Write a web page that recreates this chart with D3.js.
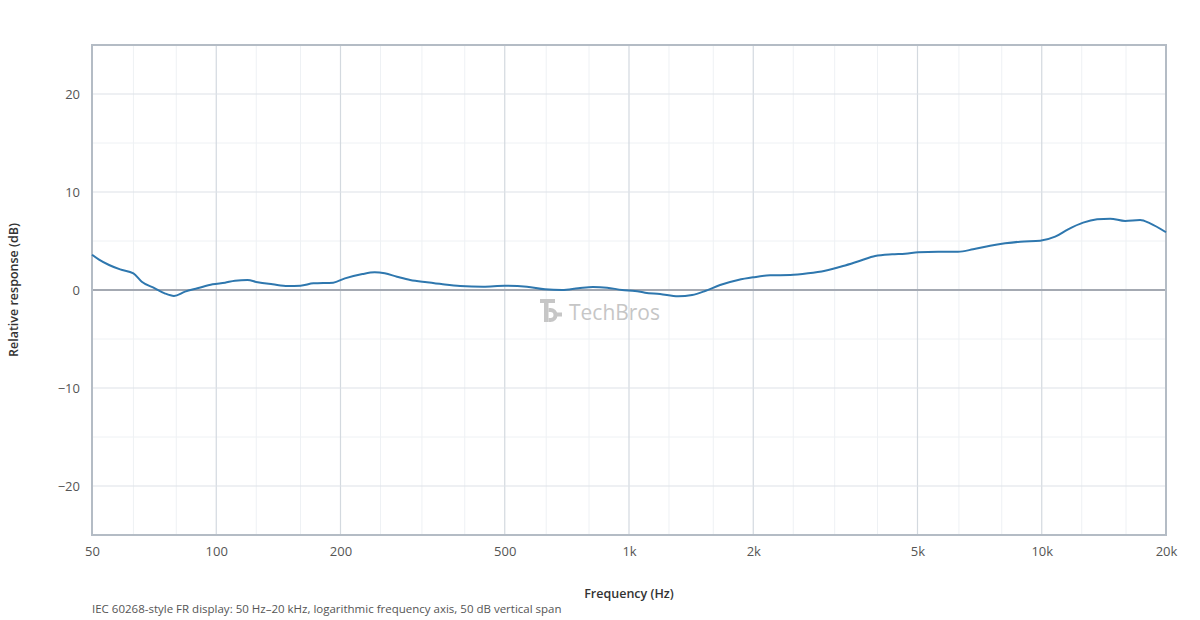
<!DOCTYPE html>
<html>
<head>
<meta charset="utf-8">
<script src="https://cdn.jsdelivr.net/npm/d3@7/dist/d3.min.js"></script>
<style>
  html, body { margin: 0; padding: 0; background: #fff; }
  svg { display: block; font-family: "Open Sans", "Noto Sans", sans-serif; }
</style>
</head>
<body>
<svg id="chart" width="1200" height="620"></svg>
<script>
// ---- data ----
const freqs = [50, 52, 55, 58.5, 63, 66, 71, 75, 79, 84, 90, 98, 105, 111, 119, 126, 137, 149, 160, 172, 192, 205, 226, 242, 256, 274, 295, 324, 354, 390, 443, 500, 566, 626, 688, 753, 818, 885, 962, 1034, 1094, 1189, 1315, 1422, 1529, 1662, 1838, 1998, 2197, 2457, 2716, 2986, 3301, 3630, 3948, 4341, 4667, 5017, 5610, 6271, 6818, 7497, 8153, 8866, 9912, 10776, 11584, 12596, 13621, 14644, 15922, 17313, 18303, 20000];
const response = [3.6, 3.1, 2.55, 2.1, 1.7, 0.85, 0.17, -0.34, -0.6, -0.17, 0.17, 0.58, 0.75, 0.95, 1.02, 0.78, 0.58, 0.41, 0.44, 0.68, 0.75, 1.19, 1.63, 1.8, 1.7, 1.36, 1.02, 0.78, 0.58, 0.41, 0.34, 0.44, 0.34, 0.07, 0.0, 0.17, 0.31, 0.24, 0.0, -0.1, -0.27, -0.41, -0.65, -0.51, -0.1, 0.51, 1.02, 1.29, 1.5, 1.53, 1.7, 1.97, 2.45, 2.99, 3.47, 3.64, 3.7, 3.84, 3.91, 3.91, 4.15, 4.52, 4.76, 4.93, 5.03, 5.44, 6.19, 6.87, 7.21, 7.28, 7.04, 7.14, 6.8, 5.89];
const xMajorTicks = [50, 100, 200, 500, 1000, 2000, 5000, 10000, 20000];
const xTickLabels = ["50", "100", "200", "500", "1k", "2k", "5k", "10k", "20k"];
const xMinorGrid = [63, 80, 125, 160, 250, 315, 400, 630, 800, 1250, 1600, 2500, 3150, 4000, 6300, 8000, 12500, 16000];
const yMajorTicks = [-20, -10, 0, 10, 20];
const yMinorGrid = [-15, -5, 5, 15];
const xDomain = [50, 20000];
const yDomain = [-25, 25];
const xTitle = "Frequency (Hz)";
const yTitle = "Relative response (dB)";
const caption = "IEC 60268-style FR display: 50 Hz\u201320 kHz, logarithmic frequency axis, 50 dB vertical span";

// ---- layout ----
const svg = d3.select("#chart");
const m = { left: 92, right: 34, top: 45, bottom: 85 };
const W = 1200, H = 620;
const x = d3.scaleLog().domain(xDomain).range([m.left, W - m.right]);
const y = d3.scaleLinear().domain(yDomain).range([H - m.bottom, m.top]);

const g = svg.append("g");

// minor grid
g.selectAll(".xminor").data(xMinorGrid).enter().append("line")
  .attr("x1", d => x(d)).attr("x2", d => x(d))
  .attr("y1", y(yDomain[1])).attr("y2", y(yDomain[0]))
  .attr("stroke", "#eef1f4").attr("stroke-width", 1);
g.selectAll(".yminor").data(yMinorGrid).enter().append("line")
  .attr("x1", x(xDomain[0])).attr("x2", x(xDomain[1]))
  .attr("y1", d => y(d)).attr("y2", d => y(d))
  .attr("stroke", "#eef1f4").attr("stroke-width", 1);

// major grid
g.selectAll(".xmajor").data(xMajorTicks.slice(1, -1)).enter().append("line")
  .attr("x1", d => x(d)).attr("x2", d => x(d))
  .attr("y1", y(yDomain[1])).attr("y2", y(yDomain[0]))
  .attr("stroke", "#d3d9df").attr("stroke-width", 1.2);
g.selectAll(".ymajor").data(yMajorTicks.filter(d => d !== 0)).enter().append("line")
  .attr("x1", x(xDomain[0])).attr("x2", x(xDomain[1]))
  .attr("y1", d => y(d)).attr("y2", d => y(d))
  .attr("stroke", "#dde2e7").attr("stroke-width", 1.2);

// watermark
const wm = g.append("g").attr("transform", "translate(540,299)").attr("fill", "#c6c6c6");
wm.append("rect").attr("x", 0).attr("y", 0).attr("width", 15).attr("height", 4);
wm.append("rect").attr("x", 4).attr("y", 0).attr("width", 4.5).attr("height", 23);
wm.append("path").attr("d", "M8.5,9 L10.5,9 A7,7 0 0 1 10.5,23 L8.5,23 L8.5,19 L10.5,19 A3,3 0 0 0 10.5,13 L8.5,13 Z");
wm.append("rect").attr("x", 16).attr("y", 13.5).attr("width", 6).attr("height", 4);
g.append("text").attr("x", 569).attr("y", 320)
  .attr("font-size", 21).attr("fill", "#c6c6c6").attr("font-weight", 500)
  .attr("textLength", 91).attr("lengthAdjust", "spacingAndGlyphs")
  .text("TechBros");

// zero line
g.append("line")
  .attr("x1", x(xDomain[0])).attr("x2", x(xDomain[1]))
  .attr("y1", y(0)).attr("y2", y(0))
  .attr("stroke", "#a4a9b2").attr("stroke-width", 2);

// frame
g.append("rect")
  .attr("x", x(xDomain[0])).attr("y", y(yDomain[1]))
  .attr("width", x(xDomain[1]) - x(xDomain[0]))
  .attr("height", y(yDomain[0]) - y(yDomain[1]))
  .attr("fill", "none").attr("stroke", "#b4bcc5").attr("stroke-width", 2);

// curve
const pts = freqs.map((f, i) => [f, response[i]]);
const line = d3.line().x(d => x(d[0])).y(d => y(d[1])).curve(d3.curveMonotoneX);
g.append("path").datum(pts)
  .attr("d", line)
  .attr("fill", "none").attr("stroke", "#2e77ae").attr("stroke-width", 2)
  .attr("stroke-linejoin", "round");

// axes labels
const xAxis = d3.axisBottom(x).tickValues(xMajorTicks)
  .tickFormat((d, i) => xTickLabels[i]).tickSize(0).tickPadding(12);
const xa = svg.append("g").attr("transform", `translate(0,${y(yDomain[0])})`).call(xAxis);
xa.select(".domain").remove();
xa.selectAll("text").attr("font-size", 13).attr("fill", "#555").attr("font-family", "'Open Sans', 'Noto Sans', sans-serif");

const yAxis = d3.axisLeft(y).tickValues(yMajorTicks).tickSize(0).tickPadding(12);
const ya = svg.append("g").attr("transform", `translate(${x(xDomain[0])},0)`).call(yAxis);
ya.select(".domain").remove();
ya.selectAll("text").attr("font-size", 13).attr("fill", "#555").attr("font-family", "'Open Sans', 'Noto Sans', sans-serif");

// titles
svg.append("text").attr("x", (x(xDomain[0]) + x(xDomain[1])) / 2).attr("y", 598)
  .attr("text-anchor", "middle").attr("font-size", 12.5).attr("font-weight", 600).attr("fill", "#333")
  .text(xTitle);
svg.append("text").attr("transform", `translate(18,${(y(yDomain[0]) + y(yDomain[1])) / 2}) rotate(-90)`)
  .attr("text-anchor", "middle").attr("font-size", 12.5).attr("font-weight", 600).attr("fill", "#333")
  .text(yTitle);
svg.append("text").attr("x", 92).attr("y", 613)
  .attr("font-size", 11.5).attr("fill", "#555")
  .text(caption);
</script>
</body>
</html>
